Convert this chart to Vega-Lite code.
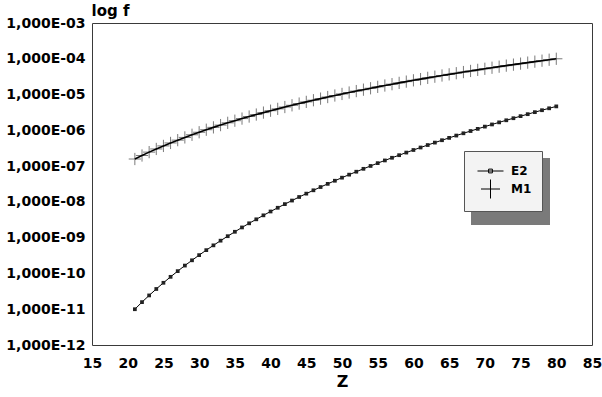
{
  "$schema": "https://vega.github.io/schema/vega-lite/v6.json",
  "width": 500,
  "height": 322,
  "autosize": {"type": "none"},
  "padding": {"left": 92, "top": 23, "right": 10, "bottom": 52},
  "background": "white",
  "config": {
    "view": {"stroke": "#3a3a3a", "strokeWidth": 1},
    "font": "DejaVu Sans"
  },
  "datasets": {
    "yticks": [
      {"v":2e-12},{"v":3e-12},{"v":4e-12},{"v":5e-12},{"v":6e-12},{"v":7e-12},{"v":8e-12},{"v":9e-12},
      {"v":1e-11},{"v":2e-11},{"v":3e-11},{"v":4e-11},{"v":5e-11},{"v":6e-11},{"v":7e-11},{"v":8e-11},{"v":9e-11},
      {"v":1e-10},{"v":2e-10},{"v":3e-10},{"v":4e-10},{"v":5e-10},{"v":6e-10},{"v":7e-10},{"v":8e-10},{"v":9e-10},
      {"v":1e-9},{"v":2e-9},{"v":3e-9},{"v":4e-9},{"v":5e-9},{"v":6e-9},{"v":7e-9},{"v":8e-9},{"v":9e-9},
      {"v":1e-8},{"v":2e-8},{"v":3e-8},{"v":4e-8},{"v":5e-8},{"v":6e-8},{"v":7e-8},{"v":8e-8},{"v":9e-8},
      {"v":1e-7},{"v":2e-7},{"v":3e-7},{"v":4e-7},{"v":5e-7},{"v":6e-7},{"v":7e-7},{"v":8e-7},{"v":9e-7},
      {"v":1e-6},{"v":2e-6},{"v":3e-6},{"v":4e-6},{"v":5e-6},{"v":6e-6},{"v":7e-6},{"v":8e-6},{"v":9e-6},
      {"v":1e-5},{"v":2e-5},{"v":3e-5},{"v":4e-5},{"v":5e-5},{"v":6e-5},{"v":7e-5},{"v":8e-5},{"v":9e-5},
      {"v":1e-4},{"v":2e-4},{"v":3e-4},{"v":4e-4},{"v":5e-4},{"v":6e-4},{"v":7e-4},{"v":8e-4},{"v":9e-4}
    ],
    "xticks": [
      {"v":20},{"v":25},{"v":30},{"v":35},{"v":40},{"v":45},{"v":50},{"v":55},{"v":60},{"v":65},{"v":70},{"v":75},{"v":80}
    ],
    "series": [
      {"Z":21,"f":1.00e-11,"s":"E2"},{"Z":22,"f":1.58e-11,"s":"E2"},{"Z":23,"f":2.43e-11,"s":"E2"},{"Z":24,"f":3.68e-11,"s":"E2"},{"Z":25,"f":5.48e-11,"s":"E2"},
      {"Z":26,"f":8.04e-11,"s":"E2"},{"Z":27,"f":1.16e-10,"s":"E2"},{"Z":28,"f":1.66e-10,"s":"E2"},{"Z":29,"f":2.33e-10,"s":"E2"},{"Z":30,"f":3.25e-10,"s":"E2"},
      {"Z":31,"f":4.48e-10,"s":"E2"},{"Z":32,"f":6.10e-10,"s":"E2"},{"Z":33,"f":8.24e-10,"s":"E2"},{"Z":34,"f":1.10e-9,"s":"E2"},{"Z":35,"f":1.46e-9,"s":"E2"},
      {"Z":36,"f":1.93e-9,"s":"E2"},{"Z":37,"f":2.52e-9,"s":"E2"},{"Z":38,"f":3.26e-9,"s":"E2"},{"Z":39,"f":4.21e-9,"s":"E2"},{"Z":40,"f":5.39e-9,"s":"E2"},
      {"Z":41,"f":6.85e-9,"s":"E2"},{"Z":42,"f":8.67e-9,"s":"E2"},{"Z":43,"f":1.09e-8,"s":"E2"},{"Z":44,"f":1.37e-8,"s":"E2"},{"Z":45,"f":1.70e-8,"s":"E2"},
      {"Z":46,"f":2.11e-8,"s":"E2"},{"Z":47,"f":2.60e-8,"s":"E2"},{"Z":48,"f":3.19e-8,"s":"E2"},{"Z":49,"f":3.90e-8,"s":"E2"},{"Z":50,"f":4.75e-8,"s":"E2"},
      {"Z":51,"f":5.77e-8,"s":"E2"},{"Z":52,"f":6.97e-8,"s":"E2"},{"Z":53,"f":8.40e-8,"s":"E2"},{"Z":54,"f":1.01e-7,"s":"E2"},{"Z":55,"f":1.21e-7,"s":"E2"},
      {"Z":56,"f":1.44e-7,"s":"E2"},{"Z":57,"f":1.71e-7,"s":"E2"},{"Z":58,"f":2.02e-7,"s":"E2"},{"Z":59,"f":2.39e-7,"s":"E2"},{"Z":60,"f":2.82e-7,"s":"E2"},
      {"Z":61,"f":3.31e-7,"s":"E2"},{"Z":62,"f":3.88e-7,"s":"E2"},{"Z":63,"f":4.54e-7,"s":"E2"},{"Z":64,"f":5.29e-7,"s":"E2"},{"Z":65,"f":6.15e-7,"s":"E2"},
      {"Z":66,"f":7.14e-7,"s":"E2"},{"Z":67,"f":8.27e-7,"s":"E2"},{"Z":68,"f":9.56e-7,"s":"E2"},{"Z":69,"f":1.10e-6,"s":"E2"},{"Z":70,"f":1.27e-6,"s":"E2"},
      {"Z":71,"f":1.46e-6,"s":"E2"},{"Z":72,"f":1.67e-6,"s":"E2"},{"Z":73,"f":1.91e-6,"s":"E2"},{"Z":74,"f":2.18e-6,"s":"E2"},{"Z":75,"f":2.49e-6,"s":"E2"},
      {"Z":76,"f":2.83e-6,"s":"E2"},{"Z":77,"f":3.22e-6,"s":"E2"},{"Z":78,"f":3.65e-6,"s":"E2"},{"Z":79,"f":4.13e-6,"s":"E2"},{"Z":80,"f":4.67e-6,"s":"E2"},
      {"Z":21,"f":1.58e-7,"s":"M1"},{"Z":22,"f":1.98e-7,"s":"M1"},{"Z":23,"f":2.46e-7,"s":"M1"},{"Z":24,"f":3.02e-7,"s":"M1"},{"Z":25,"f":3.67e-7,"s":"M1"},
      {"Z":26,"f":4.44e-7,"s":"M1"},{"Z":27,"f":5.32e-7,"s":"M1"},{"Z":28,"f":6.34e-7,"s":"M1"},{"Z":29,"f":7.51e-7,"s":"M1"},{"Z":30,"f":8.84e-7,"s":"M1"},
      {"Z":31,"f":1.04e-6,"s":"M1"},{"Z":32,"f":1.21e-6,"s":"M1"},{"Z":33,"f":1.40e-6,"s":"M1"},{"Z":34,"f":1.62e-6,"s":"M1"},{"Z":35,"f":1.86e-6,"s":"M1"},
      {"Z":36,"f":2.13e-6,"s":"M1"},{"Z":37,"f":2.43e-6,"s":"M1"},{"Z":38,"f":2.76e-6,"s":"M1"},{"Z":39,"f":3.13e-6,"s":"M1"},{"Z":40,"f":3.54e-6,"s":"M1"},
      {"Z":41,"f":3.98e-6,"s":"M1"},{"Z":42,"f":4.48e-6,"s":"M1"},{"Z":43,"f":5.01e-6,"s":"M1"},{"Z":44,"f":5.60e-6,"s":"M1"},{"Z":45,"f":6.24e-6,"s":"M1"},
      {"Z":46,"f":6.94e-6,"s":"M1"},{"Z":47,"f":7.70e-6,"s":"M1"},{"Z":48,"f":8.52e-6,"s":"M1"},{"Z":49,"f":9.41e-6,"s":"M1"},{"Z":50,"f":1.04e-5,"s":"M1"},
      {"Z":51,"f":1.14e-5,"s":"M1"},{"Z":52,"f":1.25e-5,"s":"M1"},{"Z":53,"f":1.37e-5,"s":"M1"},{"Z":54,"f":1.50e-5,"s":"M1"},{"Z":55,"f":1.64e-5,"s":"M1"},
      {"Z":56,"f":1.79e-5,"s":"M1"},{"Z":57,"f":1.95e-5,"s":"M1"},{"Z":58,"f":2.12e-5,"s":"M1"},{"Z":59,"f":2.30e-5,"s":"M1"},{"Z":60,"f":2.50e-5,"s":"M1"},
      {"Z":61,"f":2.70e-5,"s":"M1"},{"Z":62,"f":2.93e-5,"s":"M1"},{"Z":63,"f":3.16e-5,"s":"M1"},{"Z":64,"f":3.41e-5,"s":"M1"},{"Z":65,"f":3.67e-5,"s":"M1"},
      {"Z":66,"f":3.95e-5,"s":"M1"},{"Z":67,"f":4.25e-5,"s":"M1"},{"Z":68,"f":4.57e-5,"s":"M1"},{"Z":69,"f":4.90e-5,"s":"M1"},{"Z":70,"f":5.25e-5,"s":"M1"},
      {"Z":71,"f":5.62e-5,"s":"M1"},{"Z":72,"f":6.02e-5,"s":"M1"},{"Z":73,"f":6.43e-5,"s":"M1"},{"Z":74,"f":6.86e-5,"s":"M1"},{"Z":75,"f":7.32e-5,"s":"M1"},
      {"Z":76,"f":7.80e-5,"s":"M1"},{"Z":77,"f":8.31e-5,"s":"M1"},{"Z":78,"f":8.85e-5,"s":"M1"},{"Z":79,"f":9.41e-5,"s":"M1"},{"Z":80,"f":1.00e-4,"s":"M1"}
    ]
  },
  "data": {"name": "series"},
  "encoding": {
    "x": {
      "field": "Z", "type": "quantitative",
      "scale": {"domain": [15, 85], "nice": false, "zero": false},
      "axis": {
        "values": [15,20,25,30,35,40,45,50,55,60,65,70,75,80,85],
        "title": "Z",
        "titleFont": "DejaVu Sans", "titleFontSize": 16, "titleFontWeight": "bold", "titleColor": "black",
        "titlePadding": 3,
        "labelFont": "DejaVu Sans", "labelFontSize": 14, "labelFontWeight": "bold", "labelColor": "black",
        "labelPadding": 17, "labelOverlap": false, "labelBound": false, "labelFlush": false,
        "offset": -6, "ticks": false, "domain": false,
        "grid": false
      }
    },
    "y": {
      "field": "f", "type": "quantitative",
      "scale": {"type": "log", "domain": [1e-12, 1e-3], "nice": false},
      "axis": {
        "values": [1e-12,1e-11,1e-10,1e-9,1e-8,1e-7,1e-6,1e-5,1e-4,1e-3],
        "labelExpr": "'1,000E-' + (-round(log(datum.value)/LN10) < 10 ? '0' : '') + (-round(log(datum.value)/LN10))",
        "title": "log f",
        "titleAngle": 0, "titleAlign": "left", "titleBaseline": "middle",
        "titleX": -8, "titleY": -13,
        "titleFont": "DejaVu Sans", "titleFontSize": 15, "titleFontWeight": "bold", "titleColor": "black",
        "labelFont": "DejaVu Sans", "labelFontSize": 14, "labelFontWeight": "bold", "labelColor": "black",
        "labelPadding": 14, "labelOverlap": false, "labelBound": false, "labelFlush": false,
        "offset": -7, "ticks": false, "domain": false,
        "grid": false
      }
    }
  },
  "layer": [
    {
      "data": {"name": "yticks"},
      "mark": {"type": "rule", "color": "#333333", "strokeWidth": 1, "opacity": 1},
      "encoding": {
        "x": {"datum": 15, "type": "quantitative"},
        "x2": {"datum": 16},
        "y": {"field": "v", "type": "quantitative"}
      }
    },
    {
      "data": {"name": "xticks"},
      "mark": {"type": "rule", "color": "#333333", "strokeWidth": 1, "opacity": 1},
      "encoding": {
        "x": {"field": "v", "type": "quantitative"},
        "y": {"datum": 1e-12, "type": "quantitative"},
        "y2": {"datum": 1.47e-12}
      }
    },
    {
      "transform": [{"filter": "datum.s === 'M1'"}],
      "mark": {"type": "point", "filled": false, "size": 150, "strokeWidth": 1, "opacity": 1},
      "encoding": {
        "color": {
          "field": "Z", "type": "quantitative",
          "scale": {"range": ["#7a7a7a", "#7a7a7a"]},
          "legend": {
            "orient": "none", "legendX": 379, "legendY": 135, "zindex": 1,
            "direction": "vertical", "title": null, "padding": 0,
            "gradientLength": 67, "gradientThickness": 79, "gradientStrokeWidth": 0, "gradientOpacity": 1,
            "labelExpr": "''", "labelOpacity": 0, "labelFontSize": 1, "labelOffset": 0, "labelOverlap": false
          }
        },
        "shape": {
          "field": "s", "type": "nominal",
          "scale": {"domain": ["E2", "M1"], "range": ["M-1.37,0H1.37M-0.2,-0.2H0.2V0.2H-0.2Z", "M-1,0H1M0,-1V1"]},
          "legend": {
            "orient": "none", "legendX": 372, "legendY": 128, "zindex": 2,
            "title": null, "padding": 10, "rowPadding": 0,
            "symbolSize": 361, "symbolOffset": 6.5,
            "symbolFillColor": "black", "symbolStrokeColor": "black", "symbolStrokeWidth": 1, "symbolOpacity": 1,
            "labelOffset": 10.5, "labelFont": "DejaVu Sans", "labelFontSize": 12, "labelFontWeight": "bold",
            "labelColor": "black",
            "fillColor": "#f3f3f3", "strokeColor": "#555555"
          }
        }
      }
    },
    {
      "transform": [{"filter": "datum.s === 'M1'"}],
      "mark": {"type": "line", "strokeWidth": 1.6, "color": "black"},
      "encoding": {}
    },
    {
      "transform": [{"filter": "datum.s === 'E2'"}],
      "mark": {"type": "line", "strokeWidth": 1, "color": "black"},
      "encoding": {}
    },
    {
      "transform": [{"filter": "datum.s === 'E2'"}],
      "mark": {"type": "point", "shape": "square", "filled": true, "size": 14, "color": "#222222", "opacity": 1},
      "encoding": {}
    }
  ]
}
